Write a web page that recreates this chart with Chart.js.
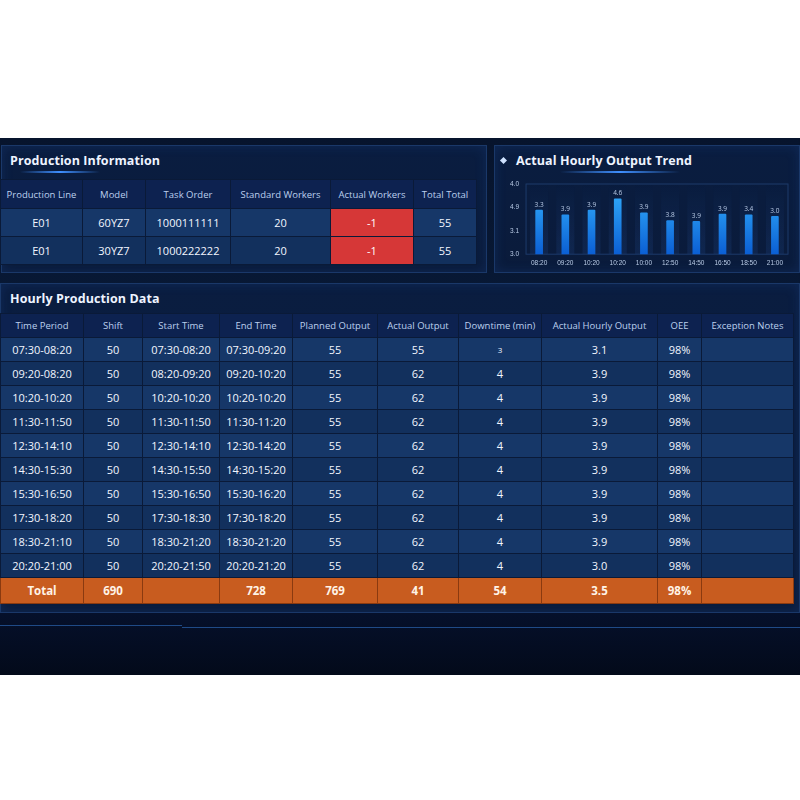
<!DOCTYPE html>
<html>
<head>
<meta charset="utf-8">
<script src="https://cdn.jsdelivr.net/npm/chart.js@4"></script>
<style>
  html, body { margin: 0; padding: 0; background: #fff; }
  body { width: 800px; height: 800px; position: relative; overflow: hidden; font-family: "Open Sans", "Noto Sans", sans-serif; }
  #board { position: absolute; left: 0; top: 138px; width: 800px; height: 537px;
    background: linear-gradient(180deg, #07142d 0%, #081a38 40%, #061230 85%, #030a1a 100%); }
  .panel { position: absolute; border: 1px solid #1a3869; box-shadow: inset 0 0 12px rgba(40,100,200,0.18);
    background: linear-gradient(180deg, #0a1d40 0%, #0a1b3b 100%); }
  .title { position: absolute; color: #eef4ff; font-weight: 700; font-size: 12.5px; letter-spacing: 0.1px; }
  .title-bar { position: absolute; height: 2px; background: linear-gradient(90deg, rgba(60,140,255,0) 0%, #3f8fff 50%, rgba(60,140,255,0) 100%); }
  table { position: absolute; border-collapse: collapse; table-layout: fixed; }
  td, th { padding: 0; text-align: center; border: 1px solid #0a1a38; overflow: hidden; white-space: nowrap; }
  th { color: #bcd0ee; font-weight: 400; font-size: 9.5px; background: #0d2250; }
  td { color: #f2f6ff; font-size: 11px; }
  tr.odd td { background: #163768; }
  tr.even td { background: #12305d; }
  td.red { background: #d63737 !important; color: #fff; }
  tr.total td { background: #c85c1f; color: #fff3e6; font-weight: 700; font-size: 11.5px; border-color: #8a3a10; }
  #chartBox { position: absolute; left: 497px; top: 173px; width: 300px; height: 99px; }
  .line { position: absolute; height: 1px; background: #1f4a86; }
</style>
</head>
<body>
<div id="board">
  <!-- production info -->
  <div class="panel" style="left:1px; top:7px; width:484px; height:126px;"></div>
  <div class="title" style="left:10px; top:14px;">Production Information</div>
  <div class="title-bar" style="left:20px; top:33px; width:80px;"></div>
  <table id="infoTable" style="left:0; top:41px; width:476px;"></table>

  <!-- chart panel -->
  <div class="panel" style="left:494px; top:7px; width:304px; height:126px;"></div>
  <div style="position:absolute; left:501px; top:20px; width:5px; height:5px; background:#cfe2ff; transform:rotate(45deg);"></div>
  <div class="title" style="left:516px; top:14px;">Actual Hourly Output Trend</div>
  <div class="title-bar" style="left:560px; top:33px; width:120px;"></div>

  <!-- hourly panel -->
  <div class="panel" style="left:0; top:145px; width:798px; height:328px;"></div>
  <div class="title" style="left:10px; top:152px;">Hourly Production Data</div>
  <table id="hourTable" style="left:0; top:175px; width:793px;"></table>

  <div class="line" style="left:0; top:487px; width:182px;"></div>
  <div class="line" style="left:182px; top:489px; width:618px;"></div>
</div>
<div id="chartBox"><canvas id="trend"></canvas></div>

<script>
// top table
const infoHeaders = ['Production Line', 'Model', 'Task Order', 'Standard Workers', 'Actual Workers', 'Total Total'];
const infoLines = ['E01', 'E01'];
const infoModels = ['60YZ7', '30YZ7'];
const infoOrders = ['1000111111', '1000222222'];
const infoStdWorkers = [20, 20];
const infoActWorkers = [-1, -1];
const infoTotals = [55, 55];
const infoColW = [82, 63, 85, 100, 83, 63];

// hourly table
const hourHeaders = ['Time Period', 'Shift', 'Start Time', 'End Time', 'Planned Output', 'Actual Output', 'Downtime (min)', 'Actual Hourly Output', 'OEE', 'Exception Notes'];
const timePeriods = ['07:30-08:20', '09:20-08:20', '10:20-10:20', '11:30-11:50', '12:30-14:10', '14:30-15:30', '15:30-16:50', '17:30-18:20', '18:30-21:10', '20:20-21:00'];
const shifts = [50, 50, 50, 50, 50, 50, 50, 50, 50, 50];
const startTimes = ['07:30-08:20', '08:20-09:20', '10:20-10:20', '11:30-11:50', '12:30-14:10', '14:30-15:50', '15:30-16:50', '17:30-18:30', '18:30-21:20', '20:20-21:50'];
const endTimes = ['07:30-09:20', '09:20-10:20', '10:20-10:20', '11:30-11:20', '12:30-14:20', '14:30-15:20', '15:30-16:20', '17:30-18:20', '18:30-21:20', '20:20-21:20'];
const plannedOutput = [55, 55, 55, 55, 55, 55, 55, 55, 55, 55];
const actualOutput = [55, 62, 62, 62, 62, 62, 62, 62, 62, 62];
const downtime = [3, 4, 4, 4, 4, 4, 4, 4, 4, 4];
const hourlyOutput = ['3.1', '3.9', '3.9', '3.9', '3.9', '3.9', '3.9', '3.9', '3.9', '3.0'];
const oee = ['98%', '98%', '98%', '98%', '98%', '98%', '98%', '98%', '98%', '98%'];
const totalRow = ['Total', 690, '', 728, 769, 41, 54, '3.5', '98%', ''];
const hourColW = [83, 59, 77, 73, 85, 81, 83, 116, 44, 92];

// bar chart
const hourLabels = ['08:20', '09:20', '10:20', '10:20', '10:00', '12:50', '14:50', '16:50', '18:50', '21:00'];
const barHeights = [3.63, 3.56, 3.63, 3.79, 3.59, 3.48, 3.47, 3.57, 3.56, 3.54];
const barLabels = ['3.3', '3.9', '3.9', '4.6', '3.9', '3.8', '3.9', '3.9', '3.4', '3.0'];
const yTickLabels = ['3.0', '3.1', '4.9', '4.0'];

function colgroup(widths) {
  return '<colgroup>' + widths.map(w => `<col style="width:${w}px">`).join('') + '</colgroup>';
}

const info = document.getElementById('infoTable');
info.innerHTML = colgroup(infoColW) +
  `<tr style="height:29px">${infoHeaders.map(h => `<th>${h}</th>`).join('')}</tr>` +
  infoLines.map((l, i) => `
    <tr class="${i % 2 ? 'even' : 'odd'}" style="height:28px">
      <td>${l}</td><td>${infoModels[i]}</td><td>${infoOrders[i]}</td>
      <td>${infoStdWorkers[i]}</td><td class="red">${infoActWorkers[i]}</td><td>${infoTotals[i]}</td>
    </tr>`).join('');

const hour = document.getElementById('hourTable');
hour.innerHTML = colgroup(hourColW) +
  `<tr style="height:24px">${hourHeaders.map(h => `<th>${h}</th>`).join('')}</tr>` +
  timePeriods.map((t, i) => `
    <tr class="${i % 2 ? 'even' : 'odd'}" style="height:24px">
      <td>${t}</td><td>${shifts[i]}</td><td>${startTimes[i]}</td><td>${endTimes[i]}</td>
      <td>${plannedOutput[i]}</td><td>${actualOutput[i]}</td>
      <td style="${i === 0 ? 'font-size:8px' : ''}">${downtime[i]}</td>
      <td>${hourlyOutput[i]}</td><td>${oee[i]}</td><td></td>
    </tr>`).join('') +
  `<tr class="total" style="height:26px">${totalRow.map(v => `<td>${v}</td>`).join('')}</tr>`;

// labels above bars
const barText = {
  id: 'barText',
  afterDatasetsDraw(chart) {
    const ctx = chart.ctx;
    ctx.save();
    ctx.fillStyle = '#b9cbe6';
    ctx.font = '6.5px "Open Sans", sans-serif';
    ctx.textAlign = 'center';
    ctx.textBaseline = 'bottom';
    chart.getDatasetMeta(0).data.forEach((bar, i) => {
      ctx.fillText(barLabels[i], bar.x, bar.y - 2);
    });
    ctx.restore();
  }
};

// faint columns behind bars + plot border
const plotBg = {
  id: 'plotBg',
  beforeDatasetsDraw(chart) {
    const { ctx, chartArea: a } = chart;
    ctx.save();
    chart.getDatasetMeta(0).data.forEach(bar => {
      const g = ctx.createLinearGradient(0, a.top, 0, a.bottom);
      g.addColorStop(0, 'rgba(60,120,220,0.0)');
      g.addColorStop(1, 'rgba(60,120,220,0.12)');
      ctx.fillStyle = g;
      ctx.fillRect(bar.x - 9, a.top, 18, a.bottom - a.top);
    });
    ctx.strokeStyle = '#1c3a6a';
    ctx.lineWidth = 1;
    ctx.strokeRect(a.left, a.top, a.right - a.left, a.bottom - a.top);
    ctx.restore();
  }
};

new Chart(document.getElementById('trend'), {
  type: 'bar',
  data: {
    labels: hourLabels,
    datasets: [{
      data: barHeights,
      backgroundColor: (c) => {
        const a = c.chart.chartArea;
        if (!a) return '#1a8cff';
        const g = c.chart.ctx.createLinearGradient(0, a.top, 0, a.bottom);
        g.addColorStop(0, '#35b4ff');
        g.addColorStop(1, '#0b5fd4');
        return g;
      },
      barThickness: 7,
      borderRadius: 1
    }]
  },
  options: {
    responsive: true,
    maintainAspectRatio: false,
    animation: false,
    layout: { padding: { left: 6, right: 9, top: 11, bottom: 0 } },
    plugins: { legend: { display: false }, tooltip: { enabled: false } },
    scales: {
      x: {
        grid: { display: false, drawTicks: false },
        border: { display: false },
        ticks: { color: '#b9cbe6', font: { size: 6.5 }, maxRotation: 0, autoSkip: false, padding: 5 }
      },
      y: {
        min: 3, max: 4,
        afterBuildTicks: (s) => { s.ticks = [3, 3 + 1 / 3, 3 + 2 / 3, 4].map(v => ({ value: v })); },
        grid: { display: false, drawTicks: false },
        border: { display: false },
        ticks: {
          color: '#b9cbe6', font: { size: 6.5 }, padding: 7,
          callback: (v, i) => yTickLabels[i]
        }
      }
    }
  },
  plugins: [plotBg, barText]
});
</script>
</body>
</html>
